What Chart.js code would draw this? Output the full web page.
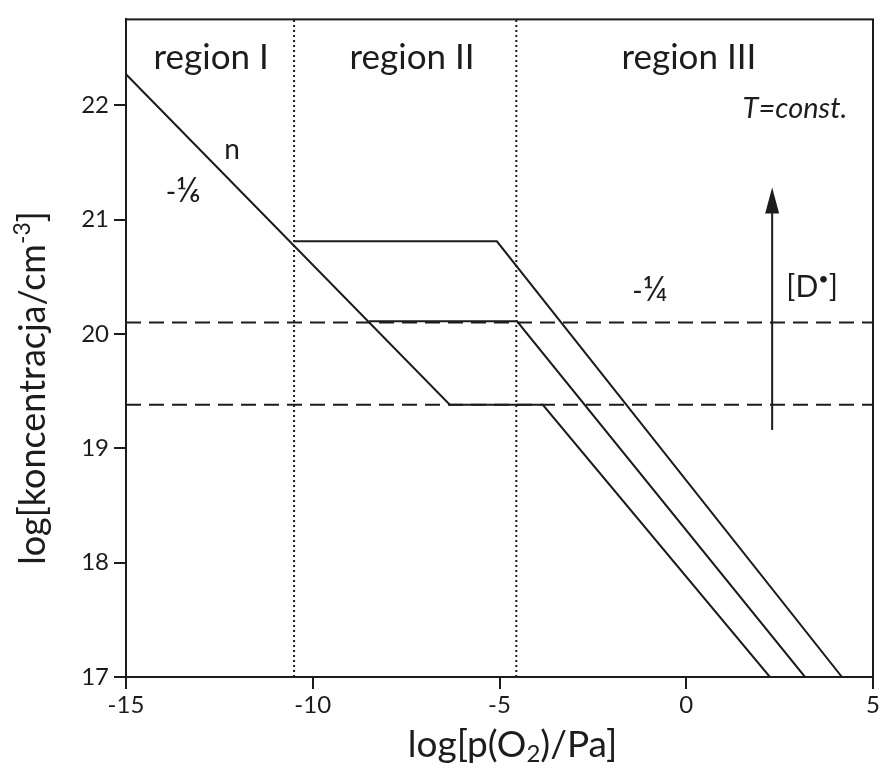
<!DOCTYPE html>
<html>
<head>
<meta charset="utf-8">
<script src="https://cdn.jsdelivr.net/npm/chart.js@4.4.1/dist/chart.umd.min.js"></script>
<style>
  html, body { margin: 0; padding: 0; background: #fff; }
  #wrap { width: 884px; height: 769px; }
</style>
</head>
<body>
<div id="wrap"><canvas id="defectChart"></canvas></div>
<script>
const xTicks = [-15, -10, -5, 0, 5];
const yTicks = [17, 18, 19, 20, 21, 22];

// n line through region I, continuing into the lowest curve
const lowX = [-15, -6.33, -3.84, 2.24];
const lowY = [22.27, 19.38, 19.38, 17];
const midX = [-8.49, -4.53, 3.18];
const midY = [20.11, 20.11, 17];
const topX = [-10.5, -5.07, 4.17];
const topY = [20.81, 20.81, 17];

const dashLevels = [20.1, 19.38];
const regionBounds = [-10.5, -4.55];
const regionNames = ['region I', 'region II', 'region III'];

const ink = '#1c1c1c';
const fam = 'Lato, "DejaVu Sans", sans-serif';

function pts(xs, ys) {
  return xs.map((x, i) => ({ x: x, y: ys[i] }));
}

function solid(xs, ys) {
  return { data: pts(xs, ys), showLine: true, pointRadius: 0, borderColor: ink, borderWidth: 2, tension: 0 };
}

const datasets = [solid(lowX, lowY), solid(midX, midY), solid(topX, topY)];
dashLevels.forEach(v => {
  datasets.push({ data: [{ x: -15, y: v }, { x: 5, y: v }], showLine: true, pointRadius: 0,
    borderColor: ink, borderWidth: 2, borderDash: [15, 8] });
});
regionBounds.forEach(v => {
  datasets.push({ data: [{ x: v, y: 17 }, { x: v, y: 22.75 }], showLine: true, pointRadius: 0,
    borderColor: ink, borderWidth: 2, borderDash: [2, 3] });
});

// draws pieces of text side by side (for sub/superscripts)
function rich(ctx, parts, cx, baseY, style) {
  let total = 0;
  parts.forEach(p => {
    ctx.font = (style || '') + ' ' + p.size + 'px ' + fam;
    p.w = ctx.measureText(p.t).width;
    total += p.w;
  });
  let x = cx - total / 2;
  parts.forEach(p => {
    ctx.font = (style || '') + ' ' + p.size + 'px ' + fam;
    ctx.fillText(p.t, x, baseY + (p.dy || 0));
    x += p.w;
  });
}

const extras = {
  id: 'extras',
  afterDraw(chart) {
    const ctx = chart.ctx;
    const a = chart.chartArea;
    const sx = chart.scales.x, sy = chart.scales.y;
    const px = v => sx.getPixelForValue(v);
    const py = v => sy.getPixelForValue(v);
    ctx.save();
    ctx.strokeStyle = ink;
    ctx.lineWidth = 2;
    ctx.strokeRect(a.left, a.top, a.right - a.left, a.bottom - a.top);

    ctx.fillStyle = ink;
    ctx.textAlign = 'left';
    ctx.textBaseline = 'alphabetic';

    const regionX = [-12.72, -7.34, 0.07];
    regionNames.forEach((name, i) => rich(ctx, [{ t: name, size: 35 }], px(regionX[i]), py(22.32)));

    rich(ctx, [{ t: 'T=const.', size: 29 }], px(2.91), py(21.89), 'italic');
    rich(ctx, [{ t: 'n', size: 28 }], px(-12.16), py(21.53));
    rich(ctx, [{ t: '-', size: 28 }, { t: '⅙', size: 34 }], px(-13.47), py(21.15));
    rich(ctx, [{ t: '-', size: 28 }, { t: '¼', size: 34 }], px(-0.97), py(20.29));
    rich(ctx, [{ t: '[D', size: 30 }, { t: '•', size: 18, dy: -12 }, { t: ']', size: 30 }], px(3.37), py(20.32));

    // arrow for increasing [D•]
    const ax = px(2.3), y0 = py(19.16), y1 = py(21.28);
    ctx.beginPath();
    ctx.moveTo(ax, y0);
    ctx.lineTo(ax, y1 + 20);
    ctx.stroke();
    ctx.beginPath();
    ctx.moveTo(ax, y1);
    ctx.lineTo(ax - 7, y1 + 26);
    ctx.lineTo(ax + 7, y1 + 26);
    ctx.closePath();
    ctx.fill();

    // axis titles
    rich(ctx, [{ t: 'log[p(O', size: 37 }, { t: '2', size: 24, dy: 5 }, { t: ')/Pa]', size: 37 }],
      (a.left + a.right) / 2 + 13, 757);
    ctx.translate(45, 388);
    ctx.rotate(-Math.PI / 2);
    rich(ctx, [{ t: 'log[koncentracja/cm', size: 36 }, { t: '-3', size: 23, dy: -15 }, { t: ']', size: 36 }], 0, 0);
    ctx.restore();
  }
};

const ctx = document.getElementById('defectChart');

new Chart(ctx, {
  type: 'scatter',
  data: { datasets: datasets },
  options: {
    responsive: true,
    maintainAspectRatio: false,
    animation: false,
    layout: { padding: { top: 12, right: 11, left: 0, bottom: 0 } },
    plugins: { legend: { display: false }, tooltip: { enabled: false } },
    scales: {
      x: {
        type: 'linear',
        min: -15,
        max: 5,
        afterBuildTicks: s => { s.ticks = xTicks.map(v => ({ value: v })); },
        afterFit: s => { s.height = 92; },
        ticks: { font: { family: fam, size: 24 }, color: ink, padding: 2, maxRotation: 0 },
        grid: { drawOnChartArea: false, color: ink, lineWidth: 2, tickLength: 12 },
        border: { color: ink, width: 2 }
      },
      y: {
        type: 'linear',
        min: 17,
        max: 22.75,
        afterBuildTicks: s => { s.ticks = yTicks.map(v => ({ value: v })); },
        afterFit: s => { s.width = 126; },
        ticks: { font: { family: fam, size: 24 }, color: ink, padding: 5 },
        grid: { drawOnChartArea: false, color: ink, lineWidth: 2, tickLength: 12 },
        border: { color: ink, width: 2 }
      }
    }
  },
  plugins: [extras]
});
</script>
</body>
</html>
